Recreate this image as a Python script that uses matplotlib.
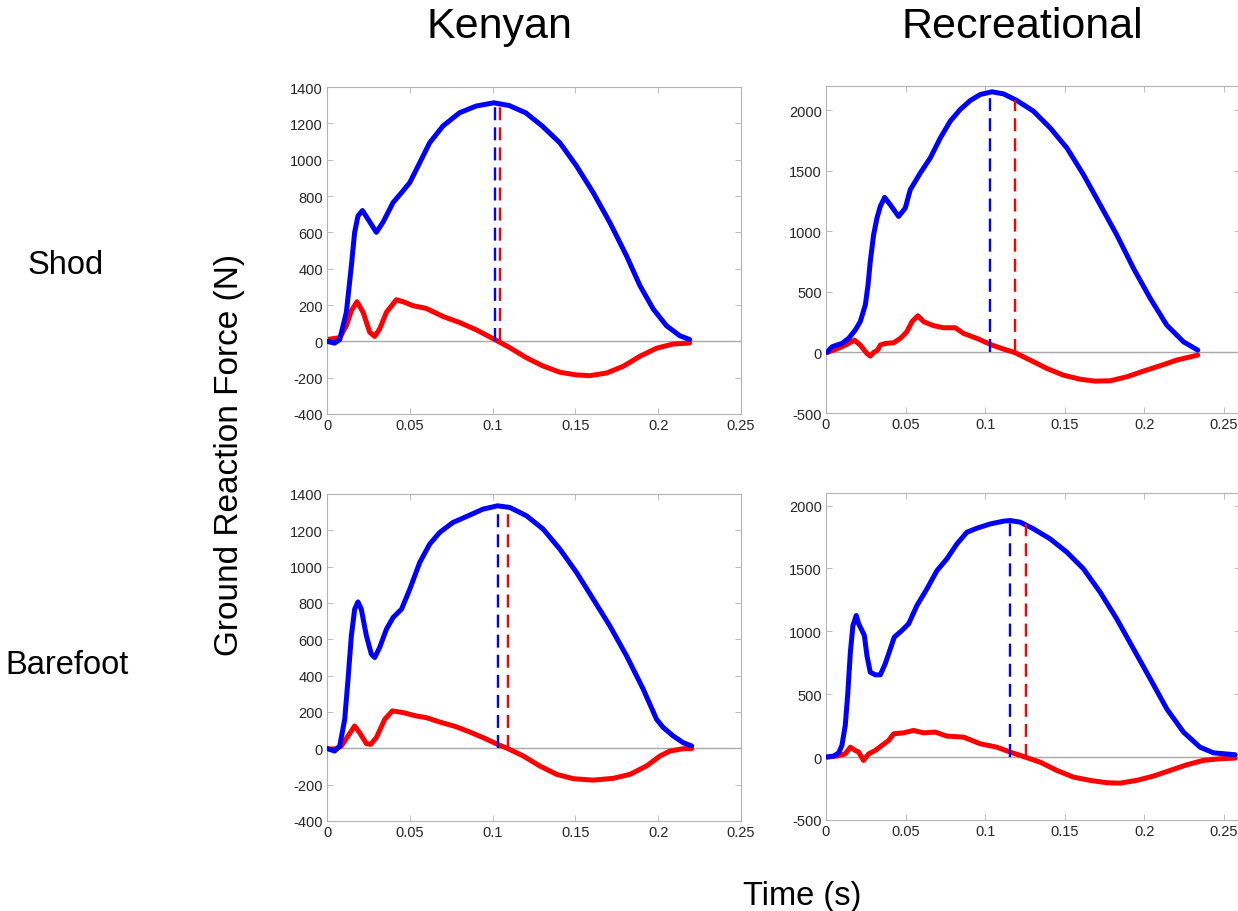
# file: plot.py
# ground reaction force, 2 x 2 panels (kenyan / recreational, shod / barefoot)

#####################################################################

# LIBRARIES

from matplotlib.pyplot import figure, rcParams
from matplotlib.ticker import FuncFormatter
from numpy import arange

rcParams["font.family"] = ["Liberation Sans", "DejaVu Sans"]

#####################################################################

# DATA

COLS = ["Kenyan", "Recreational"]
ROWS = ["Shod", "Barefoot"]

# kenyan, shod : vertical force (blue)
ks_vt = [0.000, 0.0046, 0.0077, 0.0117, 0.0147, 0.0167, 0.0187, 0.0214,
         0.0248, 0.0298, 0.0338, 0.0399, 0.045, 0.050, 0.056, 0.062,
         0.070, 0.080, 0.090, 0.1007, 0.110, 0.120, 0.130, 0.1406,
         0.1507, 0.1608, 0.1708, 0.1809, 0.189, 0.197, 0.205, 0.213, 0.219]
ks_vf = [0, -10, 10, 160, 415, 600, 690, 720,
         672, 600, 655, 764, 818, 874, 983, 1093,
         1185, 1258, 1295, 1313, 1298, 1258, 1185, 1093,
         965, 818, 654, 470, 306, 178, 86, 31, 10]

# kenyan, shod : horizontal force (red)
ks_ht = [0.000, 0.0077, 0.0117, 0.0147, 0.0181, 0.0218, 0.0258, 0.0288,
         0.0318, 0.0359, 0.0419, 0.046, 0.052, 0.060, 0.070, 0.080,
         0.090, 0.1007, 0.110, 0.120, 0.130, 0.1406, 0.1507, 0.1588,
         0.169, 0.179, 0.189, 0.199, 0.209, 0.219]
ks_hf = [10, 20, 86, 168, 218, 160, 50, 27,
         68, 160, 229, 218, 196, 181, 137, 104,
         64, 13, -33, -88, -134, -170, -185, -189,
         -174, -137, -82, -38, -15, -9]

# recreational, shod : vertical force (blue)
rs_vt = [0.0006, 0.0038, 0.0069, 0.010, 0.0142, 0.0184, 0.0215, 0.0247,
         0.0264, 0.0278, 0.0299, 0.032, 0.0341, 0.0368, 0.0404, 0.0456,
         0.0498, 0.0529, 0.0592, 0.0655, 0.0718, 0.078, 0.0843, 0.0906,
         0.0969, 0.1042, 0.1115, 0.1199, 0.1303, 0.1408, 0.1513, 0.1617,
         0.1722, 0.1826, 0.1931, 0.2036, 0.214, 0.2245, 0.2335]
rs_vf = [0, 47, 61, 74, 116, 185, 254, 392,
         557, 750, 971, 1109, 1206, 1280, 1219, 1123,
         1192, 1343, 1481, 1606, 1771, 1909, 2006, 2080,
         2130, 2152, 2135, 2080, 1992, 1854, 1688, 1468,
         1219, 971, 695, 447, 226, 88, 19]

# recreational, shod : horizontal force (red)
rs_ht = [0.0006, 0.0048, 0.010, 0.0142, 0.0178, 0.0215, 0.0257, 0.0278,
         0.0299, 0.0324, 0.0341, 0.0372, 0.0425, 0.0467, 0.0508, 0.054,
         0.0577, 0.0613, 0.0676, 0.0738, 0.0812, 0.0864, 0.0948, 0.1042,
         0.1115, 0.1184, 0.1282, 0.1387, 0.1492, 0.1596, 0.169, 0.1785,
         0.189, 0.1994, 0.2098, 0.2203, 0.2335]
rs_hf = [0, 19, 47, 74, 102, 61, -8, -30,
         0, 19, 61, 74, 80, 116, 171, 254,
         303, 254, 221, 204, 204, 157, 116, 61,
         28, 0, -63, -132, -188, -221, -237, -234,
         -201, -154, -110, -63, -22]

# kenyan, barefoot : vertical force (blue)
kb_vt = [0.000, 0.0046, 0.0077, 0.0107, 0.0127, 0.0147, 0.0167, 0.0187,
         0.0207, 0.0238, 0.0268, 0.0288, 0.0318, 0.0359, 0.0399, 0.045,
         0.050, 0.056, 0.062, 0.068, 0.076, 0.0862, 0.0943, 0.103,
         0.1104, 0.1205, 0.1305, 0.1406, 0.1507, 0.1608, 0.1708, 0.1809,
         0.191, 0.199, 0.2031, 0.2091, 0.2151, 0.2202]
kb_vf = [0, -15, 13, 160, 380, 619, 766, 806,
         766, 619, 518, 500, 555, 656, 720, 766,
         876, 1023, 1124, 1188, 1243, 1284, 1317, 1335,
         1326, 1280, 1207, 1097, 968, 821, 674, 509,
         325, 160, 114, 68, 31, 13]

# kenyan, barefoot : horizontal force (red)
kb_ht = [0.000, 0.0056, 0.0087, 0.0127, 0.0167, 0.0197, 0.0238, 0.0264,
         0.0298, 0.0349, 0.0395, 0.0459, 0.054, 0.060, 0.068, 0.078,
         0.0862, 0.0943, 0.103, 0.1094, 0.1185, 0.1285, 0.1386, 0.1487,
         0.1608, 0.1729, 0.183, 0.193, 0.2011, 0.2071, 0.2151, 0.2202]
kb_hf = [-5, -2, 13, 68, 123, 86, 26, 22,
         59, 160, 206, 197, 178, 169, 145, 119,
         90, 59, 22, -2, -42, -97, -143, -167,
         -175, -165, -143, -97, -42, -15, -2, -2]

# recreational, barefoot : vertical force (blue)
rb_vt = [0.000, 0.0048, 0.008, 0.010, 0.0121, 0.0136, 0.0153, 0.0169,
         0.019, 0.0205, 0.0226, 0.0241, 0.0257, 0.0278, 0.031, 0.0341,
         0.0372, 0.0404, 0.0429, 0.0477, 0.0519, 0.0571, 0.0634, 0.0697,
         0.0759, 0.0822, 0.0885, 0.0948, 0.1031, 0.1115, 0.1157, 0.122,
         0.1303, 0.1408, 0.1513, 0.1617, 0.1722, 0.1826, 0.1931, 0.2036,
         0.214, 0.2245, 0.2349, 0.2433, 0.2569]
rb_vf = [0, 8, 34, 93, 252, 490, 834, 1046,
         1126, 1060, 1007, 967, 808, 675, 654, 654,
         742, 861, 954, 1007, 1060, 1205, 1338, 1483,
         1576, 1695, 1788, 1820, 1854, 1876, 1881, 1868,
         1815, 1735, 1629, 1497, 1311, 1099, 861, 623,
         384, 199, 79, 34, 19]

# recreational, barefoot : horizontal force (red)
rb_ht = [0.000, 0.0069, 0.0121, 0.0153, 0.0184, 0.0205, 0.0236, 0.0268,
         0.031, 0.0351, 0.0393, 0.0425, 0.0487, 0.055, 0.0613, 0.0686,
         0.0759, 0.0864, 0.0969, 0.1073, 0.1157, 0.1251, 0.1345, 0.145,
         0.1554, 0.1659, 0.1764, 0.1847, 0.1952, 0.2056, 0.2161, 0.2266,
         0.237, 0.2475, 0.2569]
rb_hf = [0, 8, 26, 79, 53, 40, -26, 26,
         53, 93, 132, 185, 193, 212, 193, 199,
         167, 159, 106, 79, 40, 0, -40, -106,
         -159, -185, -204, -207, -185, -151, -106, -61,
         -26, -13, -8]

# dashed markers : [blue peak time, red zero crossing time], height
ks_mt, ks_mf = [0.1013, 0.1047], [1313, 1305]
rs_mt, rs_mf = [0.1033, 0.1184], [2152, 2085]
kb_mt, kb_mf = [0.1030, 0.1094], [1335, 1325]
rb_mt, rb_mf = [0.1157, 0.1253], [1881, 1850]

#####################################################################

# LAYOUT

W, H = 1238, 912

def box(l, t, r, b):
    # pixel box -> figure fraction
    return [l / W, 1 - b / H, (r - l) / W, (b - t) / H]

PANELS = [
    # position, x limit, y limit, y step, data
    (box(327, 88, 741, 415), 0.25, (-400, 1400), 200,
     (ks_vt, ks_vf, ks_ht, ks_hf, ks_mt, ks_mf)),
    (box(826, 87, 1240, 414), 0.26, (-500, 2200), 500,
     (rs_vt, rs_vf, rs_ht, rs_hf, rs_mt, rs_mf)),
    (box(327, 495, 741, 822), 0.25, (-400, 1400), 200,
     (kb_vt, kb_vf, kb_ht, kb_hf, kb_mt, kb_mf)),
    (box(826, 494, 1240, 821), 0.26, (-500, 2100), 500,
     (rb_vt, rb_vf, rb_ht, rb_hf, rb_mt, rb_mf)),
]

GREY = "#b3b3b3"
TEXT = "#262626"

#####################################################################

# FIGURE

fg = figure(figsize=(W / 100, H / 100), dpi=100)

for pos, xmax, ylim, ystep, data in PANELS:
    vt, vf, ht, hf, mt, mf = data
    ax = fg.add_axes(pos)

    # zero line
    ax.axhline(0, color="#a8a8a8", linewidth=1.0, zorder=1)

    # force curves
    ax.plot(vt, vf, color="#0000ff", linewidth=3.6, solid_capstyle="round",
            solid_joinstyle="round", zorder=3)
    ax.plot(ht, hf, color="#ff0000", linewidth=3.6, solid_capstyle="round",
            solid_joinstyle="round", zorder=2)

    # dashed markers
    for t, f, c in zip(mt, mf, ["#0000ff", "#ff0000"]):
        ax.plot([t, t], [0, f], color=c, linewidth=1.7,
                dashes=(5.5, 3), zorder=4)

    # limits and ticks
    ax.set_xlim(0, xmax)
    ax.set_ylim(*ylim)
    ax.set_xticks(arange(0, 0.2501, 0.05))
    ax.set_yticks(arange(ylim[0], ylim[1] + 1, ystep))
    ax.xaxis.set_major_formatter(FuncFormatter(lambda v, p: f"{v:g}"))
    ax.yaxis.set_major_formatter(FuncFormatter(lambda v, p: f"{v:g}"))
    ax.tick_params(axis="both", which="both", direction="in",
                   top=True, right=True, length=4, width=0.6,
                   color=GREY, labelcolor=TEXT, labelsize=10.5, pad=3)
    for s in ax.spines.values():
        s.set_color(GREY)
        s.set_linewidth(0.8)

# column titles
fg.text(499 / W, 1 - 38 / H, COLS[0], fontsize=31, ha="center", va="baseline")
fg.text(1022 / W, 1 - 38 / H, COLS[1], fontsize=31, ha="center", va="baseline")

# row titles
fg.text(66 / W, 1 - 274 / H, ROWS[0], fontsize=23.5, ha="center", va="baseline")
fg.text(67 / W, 1 - 674 / H, ROWS[1], fontsize=23.5, ha="center", va="baseline")

# common axis labels
fg.text(230 / W, 1 - 455 / H, "Ground Reaction Force (N)", fontsize=24,
        rotation=90, ha="center", va="center")
fg.text(802 / W, 1 - 905 / H, "Time (s)", fontsize=23.5, ha="center",
        va="baseline")

fg.savefig("out.png", dpi=100)
